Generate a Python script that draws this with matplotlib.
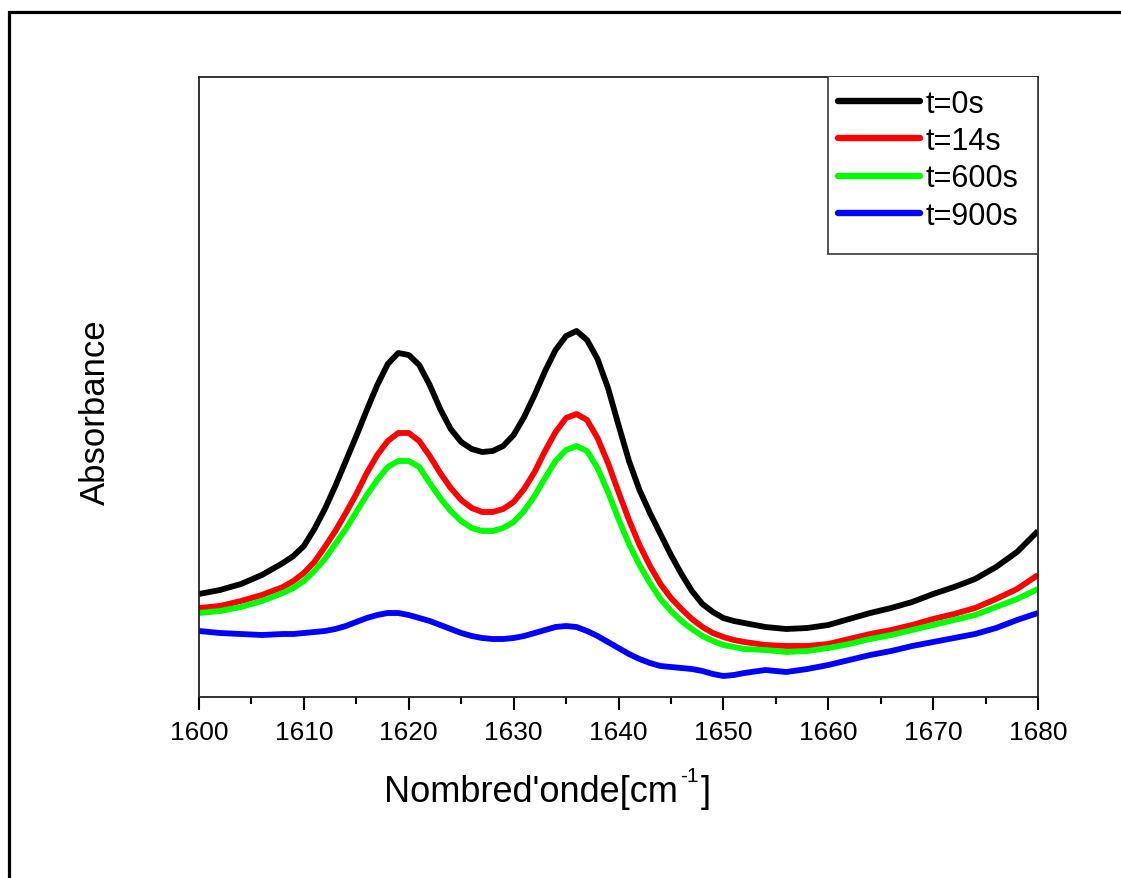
import matplotlib
matplotlib.use("Agg")
import matplotlib.pyplot as plt
from matplotlib.patches import Rectangle
from matplotlib.ticker import MultipleLocator

plt.rcParams['font.family'] = ['Liberation Sans', 'DejaVu Sans']

# Wavenumber grid (cm^-1)
wavenumber = ([1600, 1602, 1604, 1606, 1608, 1609, 1610, 1611]
              + list(range(1612, 1653))
              + list(range(1654, 1681, 2)))

abs_t0 = [0.103, 0.107, 0.113, 0.122, 0.134, 0.141, 0.151, 0.168,
          0.188, 0.211, 0.236, 0.261, 0.287, 0.312, 0.333, 0.344, 0.342, 0.332,
          0.312, 0.288, 0.268, 0.255, 0.248, 0.245, 0.246, 0.251, 0.262, 0.280,
          0.302, 0.326, 0.347, 0.361, 0.366, 0.357, 0.338, 0.309, 0.272, 0.236,
          0.207, 0.184, 0.163, 0.142, 0.123, 0.106, 0.093, 0.085, 0.079, 0.076,
          0.074,
          0.070, 0.068, 0.069, 0.072, 0.078, 0.084, 0.089, 0.095, 0.103, 0.110,
          0.118, 0.130, 0.145, 0.166]

abs_t14 = [0.089, 0.091, 0.096, 0.102, 0.110, 0.116, 0.124, 0.135,
           0.150, 0.166, 0.184, 0.203, 0.224, 0.242, 0.256, 0.264, 0.264, 0.256,
           0.241, 0.224, 0.209, 0.197, 0.189, 0.185, 0.185, 0.188, 0.195, 0.208,
           0.225, 0.246, 0.265, 0.279, 0.283, 0.277, 0.259, 0.234, 0.205, 0.177,
           0.152, 0.131, 0.113, 0.099, 0.088, 0.078, 0.070, 0.064, 0.060, 0.057,
           0.055,
           0.052, 0.051, 0.051, 0.053, 0.058, 0.063, 0.067, 0.072, 0.078, 0.083,
           0.089, 0.098, 0.108, 0.122]

abs_t600 = [0.084, 0.086, 0.090, 0.096, 0.104, 0.109, 0.116, 0.126,
            0.138, 0.153, 0.168, 0.185, 0.202, 0.217, 0.230, 0.236, 0.236, 0.230,
            0.214, 0.199, 0.186, 0.176, 0.169, 0.166, 0.166, 0.169, 0.175, 0.186,
            0.201, 0.219, 0.236, 0.247, 0.251, 0.246, 0.229, 0.205, 0.178, 0.153,
            0.132, 0.114, 0.098, 0.086, 0.076, 0.068, 0.061, 0.056, 0.052, 0.050,
            0.048,
            0.047, 0.045, 0.046, 0.049, 0.053, 0.058, 0.062, 0.067, 0.072, 0.077,
            0.082, 0.090, 0.098, 0.108]

abs_t900 = [0.066, 0.064, 0.063, 0.062, 0.063, 0.063, 0.064, 0.065,
            0.066, 0.068, 0.071, 0.075, 0.079, 0.082, 0.084, 0.084, 0.082, 0.079,
            0.076, 0.072, 0.068, 0.064, 0.061, 0.059, 0.058, 0.058, 0.059, 0.061,
            0.064, 0.067, 0.070, 0.071, 0.070, 0.066, 0.061, 0.055, 0.049, 0.043,
            0.038, 0.034, 0.031, 0.030, 0.029, 0.028, 0.026, 0.023, 0.021, 0.022,
            0.024,
            0.027, 0.025, 0.028, 0.032, 0.037, 0.042, 0.046, 0.051, 0.055, 0.059,
            0.063, 0.069, 0.077, 0.084]

labels = ["t=0s", "t=14s", "t=600s", "t=900s"]
colors = ["#000000", "#ff0000", "#00ff00", "#0000ff"]
series = [abs_t0, abs_t14, abs_t600, abs_t900]

W, H = 1121, 879
fig = plt.figure(figsize=(W / 100, H / 100), dpi=100)
fig.patch.set_facecolor("white")

# Page frame (left and top edges visible)
fig.add_artist(Rectangle((9 / W, -0.2), 2.0, 1.2 - 13 / H,
                         transform=fig.transFigure, fill=False,
                         edgecolor="black", linewidth=2.3))

ax = fig.add_axes([199 / W, (H - 698) / H, (1038 - 199) / W, (698 - 78) / H])

for y, c, lab in zip(series, colors, labels):
    ax.plot(wavenumber, y, color=c, linewidth=4.2, label=lab,
            solid_capstyle="butt", solid_joinstyle="round")

ax.set_xlim(1600, 1680)
ax.set_ylim(0.0, 0.620)
ax.set_yticks([])
ax.xaxis.set_major_locator(MultipleLocator(10))
ax.xaxis.set_minor_locator(MultipleLocator(5))
ax.tick_params(axis="x", which="major", direction="out", length=9.5,
               width=1.5, labelsize=19, pad=7)
ax.tick_params(axis="x", which="minor", direction="out", length=5,
               width=1.5)
for sp in ax.spines.values():
    sp.set_linewidth(1.3)
    sp.set_color("#222222")

# Legend box
ax.add_patch(Rectangle(((828 - 199) / 839, (698 - 255) / 620),
                       (1038 - 828) / 839, (255 - 77) / 620,
                       transform=ax.transAxes, facecolor="white",
                       edgecolor="#444444", linewidth=1.3, zorder=5))
leg = ax.legend(loc="upper left",
                bbox_to_anchor=((826 - 199) / 839, 1.0),
                frameon=False, fontsize=22, handlelength=2.68,
                handletextpad=0.2, labelspacing=0.24, borderpad=0.38,
                borderaxespad=0)
leg.set_zorder(6)
for h in leg.get_lines():
    h.set_linewidth(4.6)
    h.set_solid_capstyle("round")

# x-axis title with a raised "-1"
renderer = fig.canvas.get_renderer()
base_y = 1 - 802 / H
t_main = fig.text(384 / W, base_y, "Nombred'onde[cm", fontsize=26,
                  ha="left", va="baseline")
bb = t_main.get_window_extent(renderer)
t_sup = fig.text((bb.x1 + 2) / W, base_y + 20 / H, "-1", fontsize=15,
                 ha="left", va="baseline")
bb2 = t_sup.get_window_extent(renderer)
fig.text((bb2.x1 + 2) / W, base_y, "]", fontsize=26, ha="left",
         va="baseline")

fig.text(95 / W, 1 - 412 / H, "Absorbance", rotation=90,
         ha="center", va="center", fontsize=25)

fig.savefig("out.png", dpi=100, facecolor="white")
